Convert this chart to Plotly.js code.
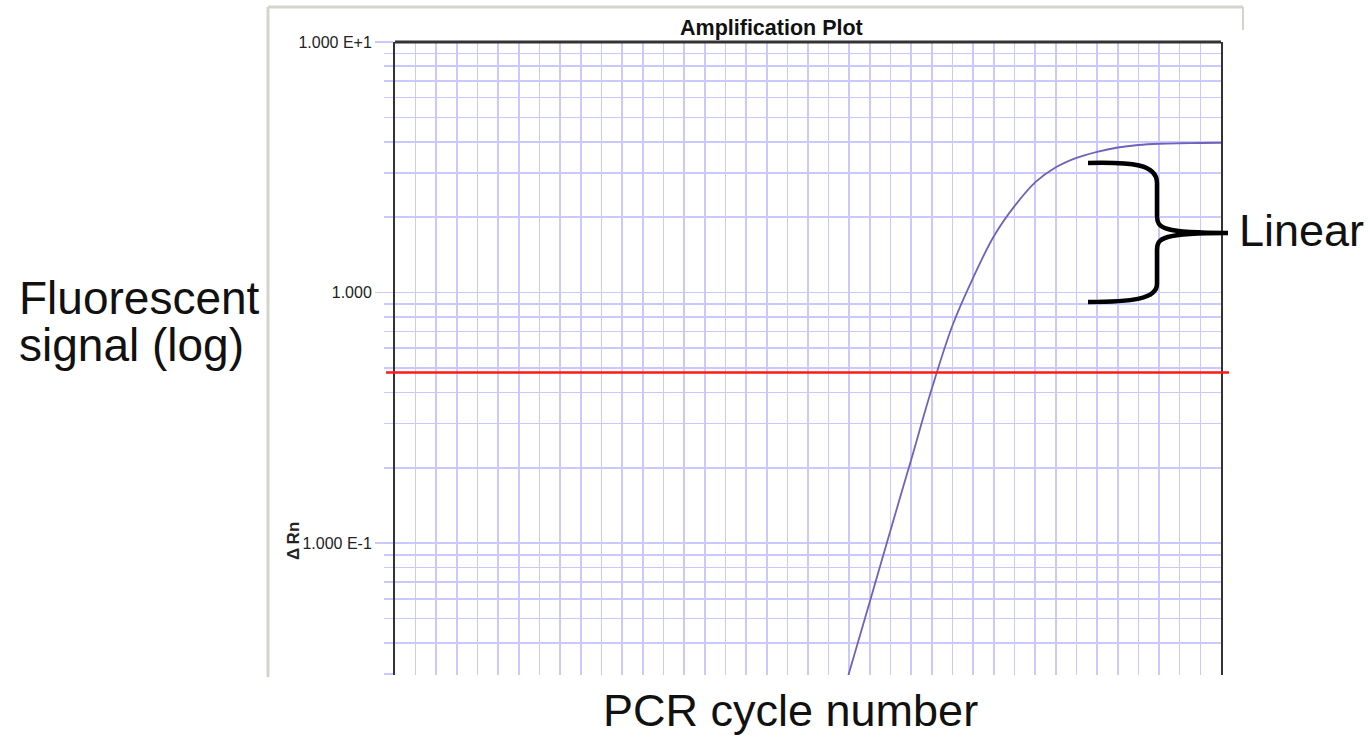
<!DOCTYPE html>
<html>
<head>
<meta charset="utf-8">
<script src="https://cdn.plot.ly/plotly-3.0.1.min.js"></script>
<style>html,body{margin:0;padding:0;background:#fff;}#chart{width:1370px;height:737px;}</style>
</head>
<body>
<div id="chart"></div>
<script>
// ---- data ----
const cycles = [21, 22, 23, 24, 25, 26, 27, 28, 29, 30, 31, 32, 33, 34, 35, 36, 37, 38, 39, 40];
const deltaRn = [0.0160, 0.0306, 0.0587, 0.113, 0.216, 0.415, 0.741, 1.148, 1.679, 2.213, 2.754, 3.162, 3.451, 3.648, 3.793, 3.882, 3.926, 3.945, 3.954, 3.963];
const thresholdRn = 0.48;
const cycleRange = [0, 40];
const yMajorVals = [0.1, 1, 10];
const yMajorText = ['1.000 E-1', '1.000', '1.000 E+1'];
const yMinorVals = [0.03, 0.04, 0.05, 0.06, 0.07, 0.08, 0.09,
                    0.2, 0.3, 0.4, 0.5, 0.6, 0.7, 0.8, 0.9,
                    2, 3, 4, 5, 6, 7, 8, 9];
const xGridVals = Array.from({length: 41}, (_, i) => i);

// ---- layout helpers (pixel -> paper) ----
const L = 395, R = 1221, T = 42, B = 675;
const px = x => (x - L) / (R - L);
const py = y => (B - y) / (B - T);

const grid = '#c9c9ff';
const font = 'Liberation Sans, Arial, sans-serif';

function pt(x, y) { return px(x).toFixed(4) + ',' + py(y).toFixed(4); }
const bracePath = [
  'M', pt(1088, 163),
  'C', pt(1132, 162), pt(1157, 164), pt(1157, 183),
  'L', pt(1157, 216),
  'C', pt(1157, 228), pt(1162, 233), pt(1228, 233),
  'M', pt(1228, 233),
  'C', pt(1162, 233), pt(1157, 238), pt(1157, 250),
  'L', pt(1157, 284),
  'C', pt(1157, 299), pt(1132, 302), pt(1088, 302)
].join(' ');

const trace = {
  x: cycles, y: deltaRn, type: 'scatter', mode: 'lines',
  line: {color: '#6f62b8', width: 1.8, shape: 'spline', smoothing: 1},
  hoverinfo: 'x+y'
};

const layout = {
  width: 1370, height: 737,
  margin: {l: L, r: 1370 - R, t: T, b: 737 - B, pad: 0},
  paper_bgcolor: '#fff', plot_bgcolor: '#fff',
  showlegend: false,
  xaxis: {
    range: cycleRange, tickmode: 'array', tickvals: xGridVals, showticklabels: false,
    ticks: '', showgrid: true, gridcolor: grid, gridwidth: 1.6, zeroline: false, showline: false
  },
  yaxis: {
    type: 'log', range: [Math.log10(0.0298), 1],
    tickmode: 'array', tickvals: yMajorVals, ticktext: yMajorText,
    ticks: 'outside', ticklen: 18, tickcolor: grid, tickwidth: 1.6,
    tickfont: {family: font, size: 16, color: '#222'},
    showgrid: true, gridcolor: grid, gridwidth: 1.6,
    minor: {tickmode: 'array', tickvals: yMinorVals, ticks: 'outside', ticklen: 9,
            tickcolor: grid, tickwidth: 1.6, showgrid: true, gridcolor: grid, gridwidth: 1.6},
    showline: true, mirror: true, linecolor: '#333', linewidth: 2, zeroline: false
  },
  shapes: [
    {type: 'line', xref: 'paper', yref: 'paper', x0: 0, x1: 1, y0: 1, y1: 1, line: {color: '#333', width: 3}},
    {type: 'line', xref: 'paper', yref: 'paper', x0: px(268), x1: px(268), y0: py(7), y1: py(677), line: {color: '#d4d4cc', width: 3}},
    {type: 'line', xref: 'paper', yref: 'paper', x0: px(268), x1: px(1243), y0: py(7), y1: py(7), line: {color: '#d4d4cc', width: 3}},
    {type: 'line', xref: 'paper', yref: 'paper', x0: px(1243), x1: px(1243), y0: py(7), y1: py(30), line: {color: '#d4d4cc', width: 2}},
    {type: 'line', xref: 'paper', yref: 'y', x0: px(386), x1: px(1229), y0: thresholdRn, y1: thresholdRn, line: {color: '#ff1a1a', width: 2.5}},
    {type: 'path', xref: 'paper', yref: 'paper', path: bracePath, line: {color: '#000', width: 4.5}, fillcolor: 'rgba(0,0,0,0)'}
  ],
  annotations: [
    {text: '<b>Amplification Plot</b>', xref: 'paper', yref: 'paper', x: px(771), y: py(28), xanchor: 'center', yanchor: 'middle', showarrow: false, font: {family: font, size: 21.5, color: '#111'}},
    {text: '<b>Δ\u2009Rn</b>', xref: 'paper', yref: 'paper', x: px(293), y: py(541), xanchor: 'center', yanchor: 'middle', textangle: -90, showarrow: false, font: {family: font, size: 17, color: '#222'}},
    {text: 'Fluorescent', xref: 'paper', yref: 'paper', x: px(17), y: py(298), xanchor: 'left', yanchor: 'middle', align: 'left', showarrow: false, font: {family: font, size: 46, color: '#111'}},
    {text: 'signal (log)', xref: 'paper', yref: 'paper', x: px(17), y: py(345), xanchor: 'left', yanchor: 'middle', align: 'left', showarrow: false, font: {family: font, size: 46, color: '#111'}},
    {text: 'PCR cycle number', xref: 'paper', yref: 'paper', x: px(790), y: py(710), xanchor: 'center', yanchor: 'middle', showarrow: false, font: {family: font, size: 45, color: '#111'}},
    {text: 'Linear', xref: 'paper', yref: 'paper', x: px(1237), y: py(231), xanchor: 'left', yanchor: 'middle', showarrow: false, font: {family: font, size: 45, color: '#111'}}
  ]
};

Plotly.newPlot('chart', [trace], layout, {displayModeBar: false, staticPlot: true});
</script>
</body>
</html>
